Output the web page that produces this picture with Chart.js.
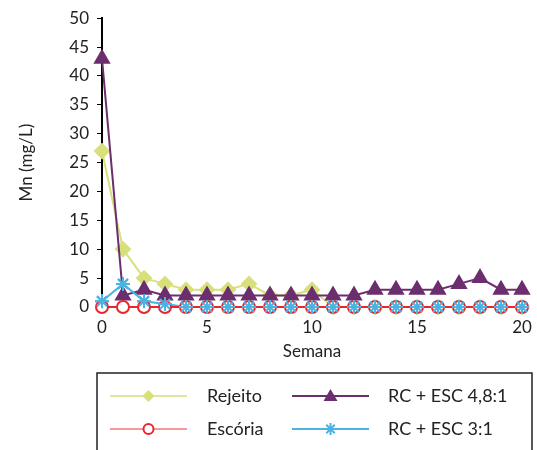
<!DOCTYPE html>
<html>
<head>
<meta charset="utf-8">
<script src="https://cdn.jsdelivr.net/npm/chart.js@4/dist/chart.umd.min.js"></script>
<style>
  html, body { margin: 0; padding: 0; background: #fff; }
  #grafico { display: block; }
</style>
</head>
<body>
<canvas id="grafico" width="537" height="450"></canvas>
<script>
// semanas de monitoreo
var semanas = [0, 1, 2, 3, 4, 5, 6, 7, 8, 9, 10, 11, 12, 13, 14, 15, 16, 17, 18, 19, 20];

// Mn (mg/L) por tratamiento
var rejeito = [27, 10, 5, 4, 3, 3, 3, 4, 2, 2, 3, 0, 0, 0, 0, 0, 0, 0, 0, 0, 0];
var escoria = [0, 0, 0, 0, 0, 0, 0, 0, 0, 0, 0, 0, 0, 0, 0, 0, 0, 0, 0, 0, 0];
var rcEsc48 = [43, 2, 3, 2, 2, 2, 2, 2, 2, 2, 2, 2, 2, 3, 3, 3, 3, 4, 5, 3, 3];
var rcEsc3 = [1, 4, 1, 0.5, 0, 0, 0, 0, 0, 0, 0, 0, 0, 0, 0, 0, 0, 0, 0, 0, 0];

var nombres = ['Rejeito', 'Escória', 'RC + ESC 4,8:1', 'RC + ESC 3:1'];
var yTicks = [0, 5, 10, 15, 20, 25, 30, 35, 40, 45, 50];
var xTicks = [0, 5, 10, 15, 20];

var fuente = 'Lato, "Open Sans", sans-serif';

var puntos = function (vals) {
	return semanas.map(function (s, i) { return { x: s, y: vals[i] }; });
};

var datasets = [{
	label: nombres[0],
	data: puntos(rejeito),
	borderColor: '#d8e07c',
	backgroundColor: '#d8e07c',
	pointStyle: 'rectRot',
	pointRadius: 7,
	borderWidth: 2,
	clip: false,
	order: 4,
	legendLine: '#dfe6a0'
}, {
	label: nombres[1],
	data: puntos(escoria),
	borderColor: '#e8262c',
	backgroundColor: '#ffffff',
	pointBorderColor: '#e8262c',
	pointStyle: 'circle',
	pointRadius: 6,
	pointBorderWidth: 2,
	borderWidth: 2,
	clip: false,
	order: 1,
	legendLine: '#f39a9a'
}, {
	label: nombres[2],
	data: puntos(rcEsc48),
	borderColor: '#6b2e6e',
	backgroundColor: '#6b2e6e',
	pointStyle: 'triangle',
	pointRadius: 8,
	borderWidth: 2,
	clip: false,
	order: 3,
	legendLine: '#6b2e6e'
}, {
	label: nombres[3],
	data: puntos(rcEsc3),
	borderColor: '#4bb3e2',
	backgroundColor: '#4bb3e2',
	pointStyle: 'star',
	pointRadius: 7,
	pointBorderWidth: 2,
	borderWidth: 2,
	clip: false,
	order: 2,
	legendLine: '#4bb3e2'
}];

// los asteriscos van encima de los circulos (como en Excel: lineas primero, marcadores despues)
var marcadoresArriba = {
	id: 'marcadoresArriba',
	afterDatasetsDraw: function (chart) {
		let meta = chart.getDatasetMeta(3);
		meta.data.forEach(function (p) { p.draw(chart.ctx, chart.chartArea); });
	}
};

// leyenda con linea y marcador al centro, dentro de un recuadro
var leyendaCaja = {
	id: 'leyendaCaja',
	afterDraw: function (chart) {
		let ctx = chart.ctx;
		ctx.save();
		ctx.strokeStyle = '#222';
		ctx.lineWidth = 1.5;
		ctx.strokeRect(97, 373, 435, 90);

		let cols = [{ x0: 110, x1: 187, tx: 207 }, { x0: 292, x1: 369, tx: 388 }];
		let filas = [396, 429];
		let orden = [0, 2, 1, 3];
		orden.forEach(function (idx, k) {
			let ds = chart.data.datasets[idx];
			let c = cols[k % 2];
			let y = filas[Math.floor(k / 2)];
			let mx = (c.x0 + c.x1) / 2;
			ctx.strokeStyle = ds.legendLine;
			ctx.lineWidth = 2;
			ctx.beginPath();
			ctx.moveTo(c.x0, y);
			ctx.lineTo(c.x1, y);
			ctx.stroke();
			ctx.fillStyle = ds.backgroundColor;
			ctx.strokeStyle = ds.pointBorderColor || ds.borderColor;
			ctx.lineWidth = ds.pointBorderWidth || 1;
			ctx.beginPath();
			if (ds.pointStyle === 'circle') {
				ctx.arc(mx, y, 5, 0, Math.PI * 2);
				ctx.fill(); ctx.stroke();
			} else if (ds.pointStyle === 'rectRot') {
				ctx.moveTo(mx, y - 6); ctx.lineTo(mx + 6, y); ctx.lineTo(mx, y + 6); ctx.lineTo(mx - 6, y);
				ctx.closePath(); ctx.fill();
			} else if (ds.pointStyle === 'triangle') {
				ctx.moveTo(mx, y - 7); ctx.lineTo(mx + 7, y + 5); ctx.lineTo(mx - 7, y + 5);
				ctx.closePath(); ctx.fill();
			} else {
				for (let a = 0; a < 4; a++) {
					let ang = a * Math.PI / 4;
					ctx.moveTo(mx - Math.cos(ang) * 6, y - Math.sin(ang) * 6);
					ctx.lineTo(mx + Math.cos(ang) * 6, y + Math.sin(ang) * 6);
				}
				ctx.stroke();
			}
			ctx.fillStyle = '#222';
			ctx.font = '18px ' + fuente;
			ctx.textBaseline = 'middle';
			ctx.textAlign = 'left';
			ctx.fillText(ds.label, c.tx, y);
		});
		ctx.restore();
	}
};

let ctx = document.getElementById('grafico').getContext('2d');
let chart = new Chart(ctx, {
	type: 'line',
	data: { datasets: datasets },
	options: {
		responsive: false,
		animation: false,
		layout: { padding: { top: 16, right: 15, bottom: 88, left: 0 } },
		plugins: {
			legend: { display: false },
			tooltip: { enabled: false }
		},
		scales: {
			x: {
				type: 'linear',
				min: 0,
				max: 20,
				afterBuildTicks: function (scale) {
					scale.ticks = xTicks.map(function (v) { return { value: v }; });
				},
				afterFit: function (scale) { scale.height = 55; },
				grid: { display: false },
				border: { display: true, color: '#000', width: 1 },
				ticks: { color: '#222', font: { family: fuente, size: 17 }, padding: 2 },
				title: { display: true, text: 'Semana', color: '#222', font: { family: fuente, size: 17 }, padding: 0 }
			},
			y: {
				min: 0,
				max: 50,
				afterBuildTicks: function (scale) {
					scale.ticks = yTicks.map(function (v) { return { value: v }; });
				},
				afterFit: function (scale) { scale.width = 102; },
				grid: { display: true, drawOnChartArea: false, drawTicks: true, tickLength: 5, color: '#000', lineWidth: 1 },
				border: { display: true, color: '#000', width: 2 },
				ticks: { color: '#222', font: { family: fuente, size: 17 }, padding: 8 },
				title: { display: true, text: 'Mn (mg/L)', color: '#222', font: { family: fuente, size: 17 }, padding: { top: 16, bottom: 0 } }
			}
		}
	},
	plugins: [marcadoresArriba, leyendaCaja]
});
</script>
</body>
</html>
